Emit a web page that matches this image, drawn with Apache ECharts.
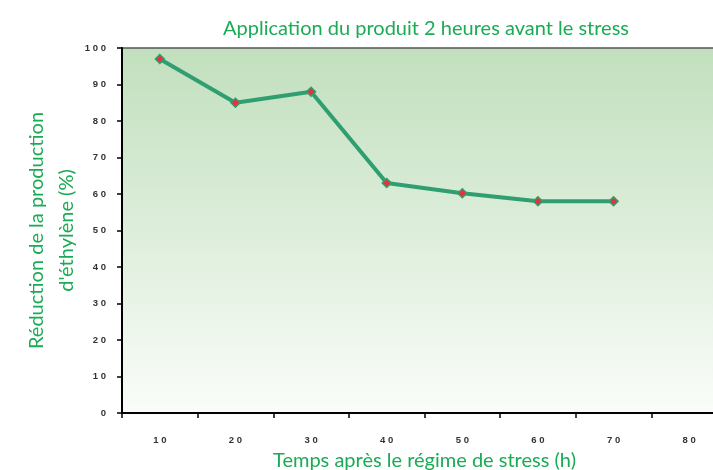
<!DOCTYPE html>
<html><head><meta charset="utf-8">
<script src="https://cdn.jsdelivr.net/npm/echarts@6/dist/echarts.min.js"></script>
<style>html,body{margin:0;padding:0;background:#fff}#c{width:713px;height:470px}</style>
</head><body><div id="c"></div>
<script>
const categories = ['10','20','30','40','50','60','70','80'];
const reduction = [97, 85, 88, 63, 60.2, 58, 58];
const titleText = 'Application du produit 2 heures avant le stress';
const xName = 'Temps après le régime de stress (h)';
const yName = 'Réduction de la production\nd\'éthylène (%)';
const spaced = v => String(v).split('').join(' ');
const chart = echarts.init(document.getElementById('c'), null, {renderer:'canvas'});
chart.setOption({
  animation:false,
  title:{text:titleText,left:421,top:14,textAlign:'center',
    textStyle:{color:'#1aab55',fontSize:20,fontWeight:'normal',fontFamily:'Lato'}},
  grid:{left:122,top:48,right:-14,bottom:57,containLabel:false,outerBoundsMode:'none',
    show:true,borderColor:'#555',borderWidth:1.5,
    backgroundColor:{type:'linear',x:0,y:0,x2:0,y2:1,colorStops:[{offset:0,color:'#c1dfbd'},{offset:1,color:'#fafdf9'}]}},
  xAxis:{type:'category',data:categories,boundaryGap:true,
    name:xName,nameLocation:'middle',nameGap:38,nameMoveOverlap:false,
    nameTextStyle:{color:'#1aab55',fontSize:20,fontFamily:'Lato'},
    axisLine:{lineStyle:{color:'#000',width:2}},
    axisTick:{show:true,length:5,alignWithLabel:false,lineStyle:{color:'#000',width:1.5}},
    axisLabel:{margin:22,color:'#333',fontSize:9.5,fontWeight:'bold',fontFamily:'Liberation Sans',formatter:spaced},
    splitLine:{show:false}},
  yAxis:{type:'value',min:0,max:100,interval:10,
    name:yName,nameLocation:'middle',nameGap:40,nameMoveOverlap:false,
    nameTextStyle:{color:'#1aab55',fontSize:20,fontFamily:'Lato',lineHeight:30,align:'center'},
    axisLine:{show:true,lineStyle:{color:'#000',width:2}},
    axisTick:{show:true,length:5,lineStyle:{color:'#000',width:1.5}},
    axisLabel:{margin:16,color:'#333',fontSize:9.5,fontWeight:'bold',fontFamily:'Liberation Sans',formatter:spaced},
    splitLine:{show:false}},
  series:[{type:'line',data:reduction,
    lineStyle:{color:'#2f9e70',width:4},
    symbol:'diamond',symbolSize:9,
    itemStyle:{color:'#e8323a',borderColor:'#2f9e70',borderWidth:1.5}}]
});
</script></body></html>
